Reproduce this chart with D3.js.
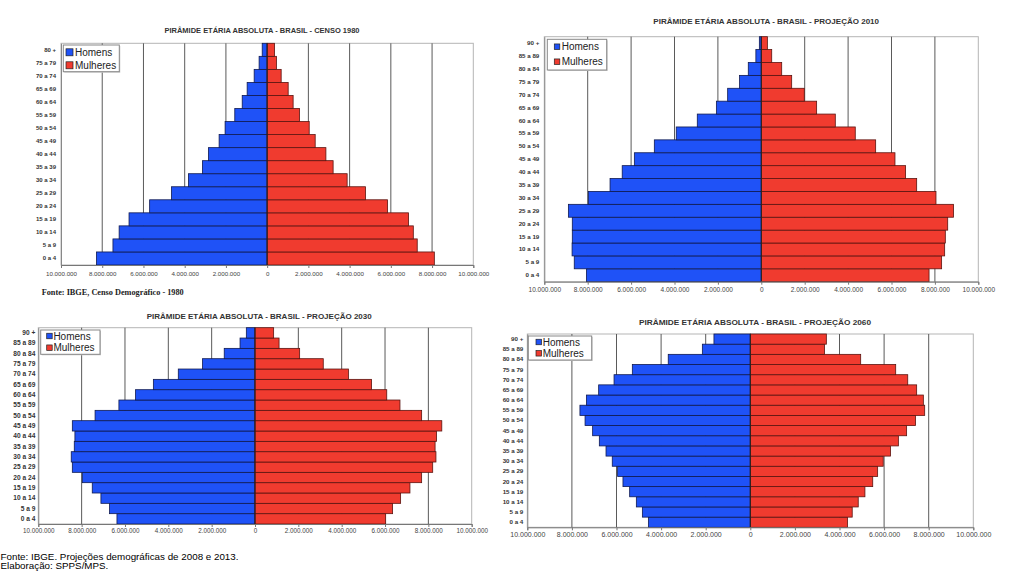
<!DOCTYPE html>
<html><head><meta charset="utf-8">
<script src="https://cdn.jsdelivr.net/npm/d3@7"></script>
<style>
html,body{margin:0;padding:0;background:#fff;}
svg{display:block;}
</style></head>
<body>
<svg id="chart" width="1009" height="576" font-family="Liberation Sans, Arial, sans-serif"></svg>
<script>
// ---------- DATA ----------
const ages17 = ["0 a 4","5 a 9","10 a 14","15 a 19","20 a 24","25 a 29","30 a 34","35 a 39","40 a 44","45 a 49","50 a 54","55 a 59","60 a 64","65 a 69","70 a 74","75 a 79","80 +"];
const ages19 = ["0 a 4","5 a 9","10 a 14","15 a 19","20 a 24","25 a 29","30 a 34","35 a 39","40 a 44","45 a 49","50 a 54","55 a 59","60 a 64","65 a 69","70 a 74","75 a 79","80 a 84","85 a 89","90 +"];

const men1980   = [8280000,7480000,7180000,6700000,5700000,4640000,3820000,3140000,2850000,2330000,2040000,1570000,1210000,970000,630000,390000,240000];
const women1980 = [8110000,7280000,7090000,6860000,5840000,4770000,3880000,3200000,2850000,2330000,2040000,1570000,1260000,1020000,680000,450000,360000];

const men2010   = [8060000,8620000,8720000,8710000,8710000,8890000,7970000,6970000,6410000,5850000,4930000,3920000,2950000,2070000,1550000,1000000,600000,250000,90000];
const women2010 = [7730000,8310000,8450000,8480000,8590000,8860000,8050000,7160000,6650000,6160000,5270000,4330000,3410000,2550000,1980000,1400000,940000,480000,280000];

const men2030   = [6370000,6710000,7110000,7510000,7970000,8430000,8480000,8340000,8310000,8430000,7380000,6280000,5510000,4690000,3540000,2420000,1420000,690000,400000];
const women2030 = [6030000,6350000,6720000,7150000,7690000,8200000,8350000,8310000,8380000,8620000,7690000,6690000,6080000,5380000,4310000,3150000,2060000,1110000,860000];

const men2060   = [4570000,4840000,5110000,5410000,5710000,5950000,6190000,6470000,6770000,7070000,7410000,7640000,7350000,6800000,6110000,5290000,3680000,2150000,1630000];
const women2060 = [4360000,4570000,4840000,5140000,5490000,5710000,5960000,6290000,6640000,7010000,7410000,7820000,7760000,7460000,7060000,6520000,4950000,3330000,3410000];

const xTicks = [-10000000,-8000000,-6000000,-4000000,-2000000,0,2000000,4000000,6000000,8000000,10000000];
const gridValues = [-8000000,-6000000,-4000000,-2000000,2000000,4000000,6000000,8000000];
const seriesNames = ["Homens","Mulheres"];
const titles = [
  "PIRÂMIDE ETÁRIA ABSOLUTA - BRASIL - CENSO 1980",
  "PIRÂMIDE ETÁRIA ABSOLUTA - BRASIL - PROJEÇÃO 2010",
  "PIRÂMIDE ETÁRIA ABSOLUTA - BRASIL - PROJEÇÃO 2030",
  "PIRÂMIDE ETÁRIA ABSOLUTA - BRASIL - PROJEÇÃO 2060"
];
const source1980 = "Fonte: IBGE, Censo Demográfico - 1980";
const footerLines = ["Fonte: IBGE. Projeções demográficas de 2008 e 2013.", "Elaboração: SPPS/MPS."];

// ---------- LAYOUT ----------
const SANS = "Liberation Sans, Arial, sans-serif";
const SERIF = "Liberation Serif, Times New Roman, serif";
const colors = {men:"#1f52f7", women:"#f03b2f"};
const panels = [
  {ages:ages17, men:men1980, women:women1980, title:titles[0],
   left:61, right:473.3, top:43.3, bottom:265, tx:262, ty:30, tw:195,
   catFs:6, tickFs:6.2, tickPad:4, catPad:5,
   leg:{x:63.3,y:45,w:56,h:26.7,sw:7,so:2.7,to:11.7,r1:7.3,r2:20.3}},
  {ages:ages19, men:men2010, women:women2010, title:titles[1],
   left:544.3, right:978.3, top:36.7, bottom:281.7, tx:766.2, ty:21, tw:225.7,
   catFs:6.2, tickFs:6.5, tickPad:3, catPad:5,
   leg:{x:547.3,y:39.3,w:59.4,h:30.7,sw:5.5,so:7,to:14.4,r1:7.4,r2:22.4}},
  {ages:ages19, men:men2030, women:women2030, title:titles[2],
   left:38.3, right:471.7, top:327.7, bottom:524, tx:259.2, ty:315.7, tw:225,
   catFs:6.6, tickFs:6.3, tickPad:2, catPad:3,
   leg:{x:40.7,y:330,w:59.3,h:24.3,sw:5.5,so:6,to:12.7,r1:6,r2:17.7}},
  {ages:ages19, men:men2060, women:women2060, title:titles[3],
   left:527.3, right:973.3, top:334, bottom:527.3, tx:755, ty:321.7, tw:232,
   catFs:6.2, tickFs:7, tickPad:1.5, catPad:4,
   leg:{x:528.3,y:336,w:63.4,h:24,sw:5.5,so:7.7,to:14.4,r1:6,r2:17.3}}
];

const fmt = d3.formatLocale({decimal:",", thousands:".", grouping:[3], currency:["",""]}).format(",");
const svg = d3.select("#chart");

panels.forEach(p => {
  const g = svg.append("g");
  const x = d3.scaleLinear().domain([-10000000, 10000000]).range([p.left, p.right]);
  const y = d3.scaleBand().domain(p.ages).range([p.bottom, p.top]).padding(0);

  // title
  g.append("text").attr("x", p.tx).attr("y", p.ty).attr("dy", "0.35em")
    .attr("text-anchor", "middle").attr("font-size", 8).attr("font-weight", "bold")
    .attr("font-family", SANS)
    .attr("fill", "#333").attr("textLength", p.tw).attr("lengthAdjust", "spacingAndGlyphs")
    .text(p.title);

  // frame
  g.append("rect").attr("x", p.left).attr("y", p.top)
    .attr("width", p.right - p.left).attr("height", p.bottom - p.top)
    .attr("fill", "#fff").attr("stroke", "#b5b5b5").attr("stroke-width", 1);

  // gridlines
  g.selectAll("line.grid").data(gridValues).join("line").attr("class", "grid")
    .attr("x1", d => x(d)).attr("x2", d => x(d))
    .attr("y1", p.top).attr("y2", p.bottom)
    .attr("stroke", "#5a5a5a").attr("stroke-width", 1);

  // bars
  const rows = p.ages.map((a, i) => ({age:a, m:p.men[i], w:p.women[i]}));
  g.selectAll("rect.men").data(rows).join("rect").attr("class", "men")
    .attr("x", d => x(-d.m)).attr("y", d => y(d.age))
    .attr("width", d => x(0) - x(-d.m)).attr("height", y.bandwidth())
    .attr("fill", colors.men).attr("stroke", "#101a50").attr("stroke-width", 0.8);
  g.selectAll("rect.women").data(rows).join("rect").attr("class", "women")
    .attr("x", x(0)).attr("y", d => y(d.age))
    .attr("width", d => x(d.w) - x(0)).attr("height", y.bandwidth())
    .attr("fill", colors.women).attr("stroke", "#5a1410").attr("stroke-width", 0.8);

  // zero line
  g.append("line").attr("x1", x(0)).attr("x2", x(0)).attr("y1", p.top).attr("y2", p.bottom)
    .attr("stroke", "#222").attr("stroke-width", 1);

  // x axis
  const xa = g.append("g").attr("transform", `translate(0,${p.bottom})`)
    .call(d3.axisBottom(x).tickValues(xTicks).tickFormat(d => fmt(Math.abs(d))).tickSize(3).tickPadding(p.tickPad));
  xa.attr("font-family", SANS);
  xa.select(".domain").attr("stroke", "#777");
  xa.selectAll(".tick line").attr("stroke", "#777");
  xa.selectAll("text").attr("font-size", p.tickFs).attr("fill", "#444");

  // y axis (categories)
  const ya = g.append("g").attr("transform", `translate(${p.left},0)`)
    .call(d3.axisLeft(y).tickSize(0).tickPadding(p.catPad));
  ya.attr("font-family", SANS);
  ya.select(".domain").attr("stroke", "#888");
  ya.selectAll("text").attr("font-size", p.catFs).attr("font-weight", "bold").attr("fill", "#333");

  // legend
  const L = p.leg;
  const lg = g.append("g");
  lg.append("rect").attr("x", L.x + 1).attr("y", L.y + 1).attr("width", L.w).attr("height", L.h).attr("fill", "#ccc");
  lg.append("rect").attr("x", L.x).attr("y", L.y).attr("width", L.w).attr("height", L.h)
    .attr("fill", "#fff").attr("stroke", "#888").attr("stroke-width", 1);
  const legColors = [colors.men, colors.women];
  [L.r1, L.r2].forEach((r, i) => {
    lg.append("rect").attr("x", L.x + L.so).attr("y", L.y + r - L.sw / 2)
      .attr("width", L.sw).attr("height", L.sw)
      .attr("fill", legColors[i]).attr("stroke", "#222").attr("stroke-width", 0.7);
    lg.append("text").attr("x", L.x + L.to).attr("y", L.y + r).attr("dy", "0.35em")
      .attr("font-family", SANS)
      .attr("font-size", 10).attr("fill", "#222").text(seriesNames[i]);
  });
});

// source under first panel
svg.append("text").attr("x", 41.7).attr("y", 292.5).attr("dy", "0.35em")
  .style("font-family", SERIF).attr("font-weight", "bold")
  .attr("font-size", 8.5).attr("fill", "#222")
  .attr("textLength", 142).attr("lengthAdjust", "spacingAndGlyphs")
  .text(source1980);

// footer
footerLines.forEach((t, i) => {
  svg.append("text").attr("x", 0.5).attr("y", 556.5 + i * 9).attr("dy", "0.35em")
    .attr("font-family", SANS)
    .attr("font-size", 9.8).attr("fill", "#000").text(t);
});
</script>
</body></html>
